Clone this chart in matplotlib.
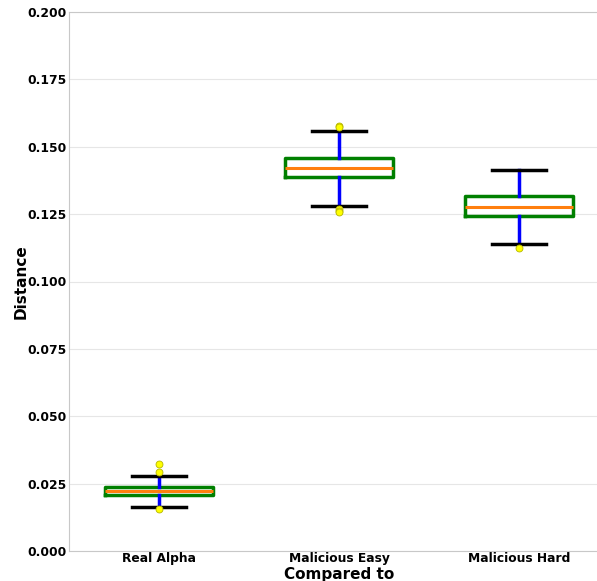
import matplotlib
matplotlib.use("Agg")
import matplotlib.pyplot as plt

# distance distributions per comparison group
groups = ["Real Alpha", "Malicious Easy", "Malicious Hard"]
medians = [0.0223, 0.1421, 0.1276]
q1 = [0.0208, 0.1388, 0.1243]
q3 = [0.0237, 0.1458, 0.1317]
whislo = [0.0163, 0.1280, 0.1139]
whishi = [0.0278, 0.1558, 0.1414]
fliers = [
    [0.0323, 0.0293, 0.0156],
    [0.1577, 0.1572, 0.1268, 0.1262, 0.1258],
    [0.1124],
]

stats = []
for i in range(len(groups)):
    stats.append({
        "label": groups[i],
        "med": medians[i],
        "q1": q1[i],
        "q3": q3[i],
        "whislo": whislo[i],
        "whishi": whishi[i],
        "fliers": fliers[i],
    })

fig = plt.figure(figsize=(5.97, 5.81), dpi=100)
ax = fig.add_axes([69/597, 30/581, 540/597, 539/581])

ax.bxp(stats, widths=0.6,
       boxprops=dict(color="green", linewidth=2.5),
       medianprops=dict(color="#ff7f0e", linewidth=2.2),
       whiskerprops=dict(color="blue", linewidth=2.5),
       capprops=dict(color="black", linewidth=2.5),
       flierprops=dict(marker="o", markerfacecolor="yellow", markeredgecolor="#b5b500",
                       markersize=5, markeredgewidth=0.6))

ax.set_xlim(0.5, 3.5)
ax.set_ylim(0, 0.2)
ax.set_yticks([0, 0.025, 0.05, 0.075, 0.1, 0.125, 0.15, 0.175, 0.2])
ax.set_yticklabels(["%.3f" % v for v in ax.get_yticks()])
ax.yaxis.grid(True, color="#e6e6e6", linewidth=0.8)
ax.set_axisbelow(True)
for s in ax.spines.values():
    s.set_color("#c8c8c8")
ax.tick_params(axis="y", length=0, pad=2)
ax.tick_params(axis="x", length=0, pad=1)
for lbl in ax.get_xticklabels() + ax.get_yticklabels():
    lbl.set_fontweight("bold")
    lbl.set_fontsize(8.8)

ax.set_xlabel("Compared to", fontweight="bold", fontsize=11, labelpad=1)
ax.set_ylabel("Distance", fontweight="bold", fontsize=11, labelpad=-1)

fig.savefig("out.png", dpi=100)
